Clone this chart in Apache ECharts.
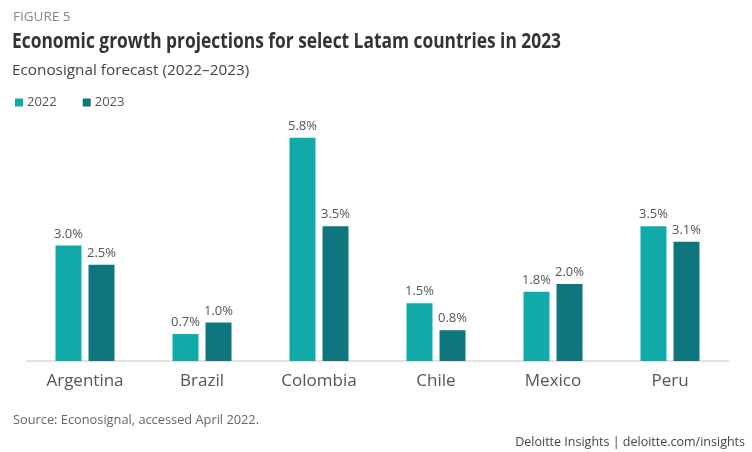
<!DOCTYPE html>
<html>
<head>
<meta charset="utf-8">
<script src="https://cdn.jsdelivr.net/npm/echarts@6/dist/echarts.min.js"></script>
<style>
html,body{margin:0;padding:0;background:#fff;}
#chart{width:752px;height:452px;}
</style>
</head>
<body>
<div id="chart"></div>
<script>
const categories = ['Argentina', 'Brazil', 'Colombia', 'Chile', 'Mexico', 'Peru'];
const values2022 = [3.0, 0.7, 5.8, 1.5, 1.8, 3.5];
const values2023 = [2.5, 1.0, 3.5, 0.8, 2.0, 3.1];
const seriesNames = ['2022', '2023'];

const titleText = 'Economic growth projections for select Latam countries in 2023';
const colors = ['#10ABA8', '#0F7680'];
const chart = echarts.init(document.getElementById('chart'));

// condensed look for the headline: measure then squeeze horizontally
const titleFont = 'bold 21px "Open Sans"';
const ctx = document.createElement('canvas').getContext('2d');
ctx.font = titleFont;
const titleW = ctx.measureText(titleText).width;
const titleScale = 549 / titleW;

const labelCfg = {
  show: true,
  position: 'top',
  distance: 5,
  color: '#555',
  fontFamily: 'Open Sans',
  fontSize: 13,
  formatter: p => p.value.toFixed(1) + '%'
};

chart.setOption({
  animation: false,
  backgroundColor: '#fff',
  title: [
    { text: 'FIGURE 5', left: 8, top: 5, textStyle: { fontFamily: 'Open Sans', fontSize: 13.5, fontWeight: 'normal', color: '#888' } },
    { text: 'Econosignal forecast (2022\u20132023)', left: 7, top: 58, textStyle: { fontFamily: 'Open Sans', fontSize: 15.3, fontWeight: 'normal', color: '#444' } },
    { text: 'Source: Econosignal, accessed April 2022.', left: 8, top: 409, textStyle: { fontFamily: 'Open Sans', fontSize: 12.8, fontWeight: 'normal', color: '#666' } },
    { text: 'Deloitte Insights | deloitte.com/insights', right: 2, top: 431, textStyle: { fontFamily: 'Open Sans', fontSize: 12.5, fontWeight: 'normal', color: '#444' } }
  ],
  graphic: [
    { type: 'text', x: 12, y: 32, scaleX: titleScale, originX: 0,
      style: { text: titleText, font: titleFont, fill: '#333' } }
  ],
  legend: {
    left: 10, top: 91,
    itemWidth: 8, itemHeight: 8, itemGap: 26,
    icon: 'rect',
    textStyle: { fontFamily: 'Open Sans', fontSize: 13, color: '#555', padding: [0, 0, 0, -1] },
    data: seriesNames
  },
  grid: { left: 26.5, right: 23.5, top: 130, bottom: 91, containLabel: false },
  xAxis: {
    type: 'category',
    data: categories,
    axisLine: { lineStyle: { color: '#e2e2e2', width: 2 } },
    axisTick: { show: false },
    axisLabel: { fontFamily: 'Open Sans', fontSize: 17, color: '#555', margin: 12 }
  },
  yAxis: {
    type: 'value', min: 0, max: 6, interval: 1,
    show: false
  },
  series: [
    { name: seriesNames[0], type: 'bar', data: values2022, barWidth: 26, barGap: '27%', itemStyle: { color: colors[0] }, label: labelCfg },
    { name: seriesNames[1], type: 'bar', data: values2023, barWidth: 26, barGap: '27%', itemStyle: { color: colors[1] }, label: labelCfg }
  ]
});
</script>
</body>
</html>
